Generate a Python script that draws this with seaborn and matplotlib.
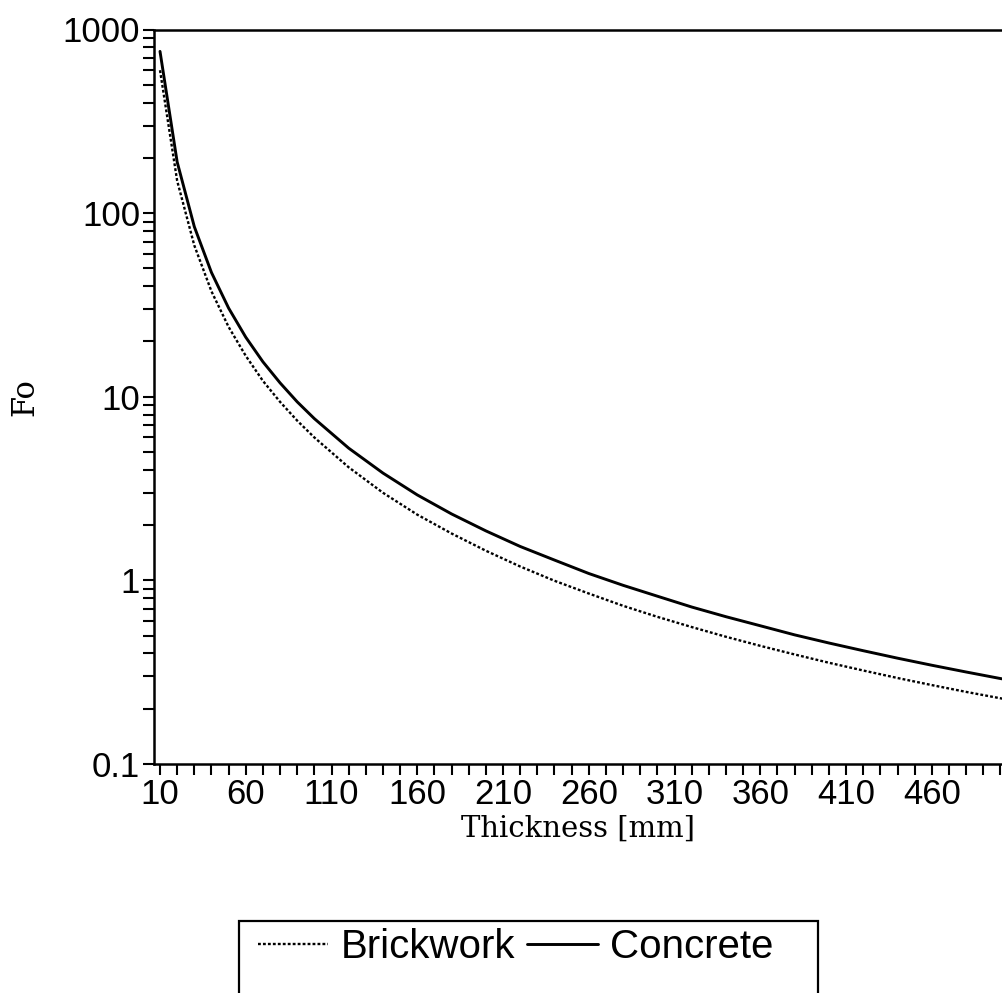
import matplotlib
matplotlib.use("Agg")
import matplotlib.pyplot as plt
from matplotlib.patches import Rectangle
from matplotlib.ticker import FixedLocator, LogLocator, NullFormatter
import pandas as pd
import seaborn as sns

# values
thickness = [10, 20, 30, 40, 50, 60, 70, 80, 90, 100,
             120, 140, 160, 180, 200, 220, 240, 260, 280, 300,
             320, 340, 360, 380, 400, 420, 440, 460, 480, 500, 510]
brickwork = [600, 150, 66.7, 37.5, 24.0, 16.7, 12.2, 9.38, 7.41, 6.00,
             4.13, 3.00, 2.28, 1.80, 1.45, 1.19, 0.995, 0.848, 0.727, 0.633,
             0.557, 0.493, 0.440, 0.395, 0.356, 0.323, 0.294, 0.269, 0.247,
             0.228, 0.219]
concrete = [760, 190, 84.4, 47.5, 30.4, 21.1, 15.5, 11.9, 9.38, 7.60,
            5.25, 3.84, 2.92, 2.30, 1.86, 1.53, 1.29, 1.09, 0.94, 0.82,
            0.716, 0.634, 0.566, 0.505, 0.456, 0.414, 0.377, 0.345, 0.317,
            0.292, 0.281]
materials = ["Brickwork", "Concrete"]
y_ticks = [0.1, 1, 10, 100, 1000]
y_labels = ["0.1", "1", "10", "100", "1000"]
x_major = list(range(10, 501, 50))
x_minor = list(range(10, 511, 10))

df = pd.DataFrame({
    "Thickness": thickness + thickness,
    "Fo": brickwork + concrete,
    "Material": ["Brickwork"] * len(thickness) + ["Concrete"] * len(thickness),
})

sns.set_style("ticks")
plt.rcParams["font.family"] = ["Liberation Sans", "DejaVu Sans"]
plt.rcParams["text.color"] = "black"
plt.rcParams["axes.labelcolor"] = "black"
plt.rcParams["xtick.color"] = "black"
plt.rcParams["ytick.color"] = "black"

W, H = 1003, 993
fig = plt.figure(figsize=(W / 100, H / 100), dpi=100)
ax = fig.add_axes([154 / W, 1 - 764 / H, 1 - 154 / W, (764 - 29.5) / H])

sns.lineplot(data=df, x="Thickness", y="Fo", hue="Material", style="Material",
             size="Material",
             palette={"Brickwork": "black", "Concrete": "black"},
             dashes={"Brickwork": (1.2, 0.9), "Concrete": ""},
             sizes={"Brickwork": 1.7, "Concrete": 2.1},
             ax=ax, legend=True)
handles, labels = ax.get_legend_handles_labels()
ax.get_legend().remove()

ax.set_yscale("log")
ax.set_ylim(0.1, 1000)
ax.set_xlim(6.5, 501.5)
ax.set_yticks(y_ticks, labels=y_labels)
ax.yaxis.set_minor_locator(LogLocator(base=10, subs=range(2, 10)))
ax.yaxis.set_minor_formatter(NullFormatter())
ax.set_xticks(x_major)
ax.xaxis.set_minor_locator(FixedLocator(x_minor))
ax.tick_params(which="both", direction="out", length=8, width=1.5,
               color="black", labelcolor="black")
ax.tick_params(which="major", labelsize=25, pad=2)

for side in ["left", "bottom", "top"]:
    ax.spines[side].set_linewidth(1.8)
    ax.spines[side].set_color("black")
ax.spines["right"].set_visible(False)

ax.set_xlabel("Thickness [mm]", family="DejaVu Serif", fontsize=21,
              labelpad=3, color="black")
ax.set_ylabel("Fo", family="DejaVu Serif", fontsize=22, labelpad=16,
              color="black")

# single legend in a frame that runs off the bottom of the canvas
by_label = dict(zip(labels, handles))
leg = fig.legend([by_label[m] for m in materials], materials, loc="center left",
                 bbox_to_anchor=(258 / W, 1 - 947 / H), ncol=2, frameon=False,
                 fontsize=29, handlelength=1.75, handletextpad=0.3,
                 columnspacing=0.3, borderpad=0, borderaxespad=0)
for txt in leg.get_texts():
    txt.set_color("black")

fig.canvas.draw()
bb = leg.get_window_extent()
box = Rectangle((239 / W, -0.05), (bb.x1 + 45 - 239) / W,
                (H - 921) / H + 0.05, transform=fig.transFigure,
                fill=False, edgecolor="black", linewidth=1.6)
fig.add_artist(box)

fig.savefig("out.png", dpi=100)
